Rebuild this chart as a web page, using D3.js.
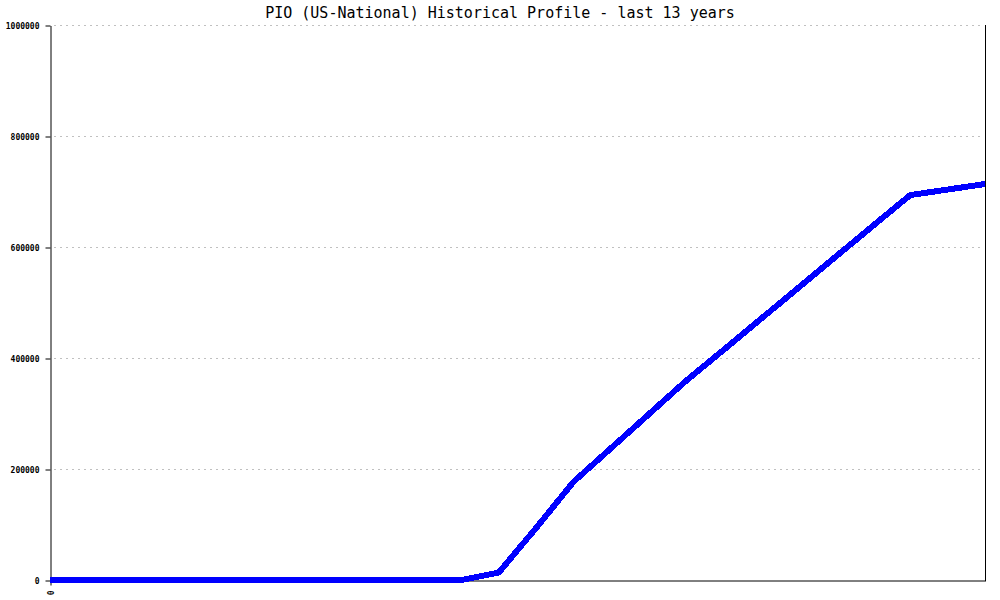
<!DOCTYPE html>
<html>
<head>
<meta charset="utf-8">
<script src="https://cdn.jsdelivr.net/npm/d3@7"></script>
<style>
  body { margin: 0; background: #fff; }
  svg { display: block; }
</style>
</head>
<body>
<svg width="1000" height="600"></svg>
<script>
// values, one per half year
const periods = d3.range(26);
const values = [0, 0, 0, 0, 0, 0, 0, 0, 0, 0, 0, 0,
  13500, 94000, 177000, 237500, 298000, 358500,
  414000, 470000, 526000, 582000, 638000, 693500, 703500, 713500];
const yTicks = [0, 200000, 400000, 600000, 800000, 1000000];
const xTicks = [0];
const title = 'PIO (US-National) Historical Profile - last 13 years';

const svg = d3.select('svg');
const plotLeft = 50, plotRight = 985, plotTop = 25, plotBottom = 580;

const x = d3.scaleLinear().domain([0, 25]).range([plotLeft, plotRight]);
const y = d3.scaleLinear().domain([0, 1000000]).range([plotBottom, plotTop]);

// dotted grid
svg.append('g')
  .selectAll('line')
  .data(yTicks.filter(d => d > 0))
  .join('line')
    .attr('x1', plotLeft + 4).attr('x2', plotRight - 4)
    .attr('y1', d => y(d) + 0.5).attr('y2', d => y(d) + 0.5)
    .attr('stroke', '#c0c0c0')
    .attr('stroke-dasharray', '2,4');

// y axis
const yAxis = svg.append('g')
  .attr('transform', `translate(${plotLeft + 0.5},0.5)`)
  .call(d3.axisLeft(y).tickValues(yTicks).tickFormat(d3.format('d')).tickSize(5).tickSizeOuter(0));
yAxis.select('.domain').attr('stroke', '#000');
yAxis.selectAll('text')
  .attr('x', -11)
  .style('font-family', '"DejaVu Sans Mono", monospace')
  .style('font-size', '8px')
  .style('font-weight', 'bold');

// right border
svg.append('line')
  .attr('x1', plotRight + 0.5).attr('x2', plotRight + 0.5)
  .attr('y1', plotTop).attr('y2', plotBottom + 1)
  .attr('stroke', '#000');

// x axis
const xAxis = svg.append('g')
  .attr('transform', `translate(0.5,${plotBottom + 0.5})`)
  .call(d3.axisBottom(x).tickValues(xTicks).tickFormat(d3.format('d')).tickSize(5).tickSizeOuter(0));
xAxis.selectAll('text')
  .attr('transform', 'rotate(-90)')
  .attr('x', -10).attr('y', 0).attr('dy', '0.32em')
  .attr('text-anchor', 'end')
  .style('font-family', '"DejaVu Sans Mono", monospace')
  .style('font-size', '8px')
  .style('font-weight', 'bold');

// series line
const line = d3.line()
  .x((d, i) => x(periods[i]))
  .y(d => y(d));

svg.append('path')
  .datum(values)
  .attr('d', line)
  .attr('fill', 'none')
  .attr('stroke', '#0000ff')
  .attr('stroke-width', 6)
  .attr('stroke-linejoin', 'round')
  .attr('shape-rendering', 'crispEdges');

svg.append('text')
  .attr('x', 500)
  .attr('y', 18)
  .attr('text-anchor', 'middle')
  .style('font-family', '"DejaVu Sans Mono", monospace')
  .style('font-size', '15px')
  .text(title);
</script>
</body>
</html>
